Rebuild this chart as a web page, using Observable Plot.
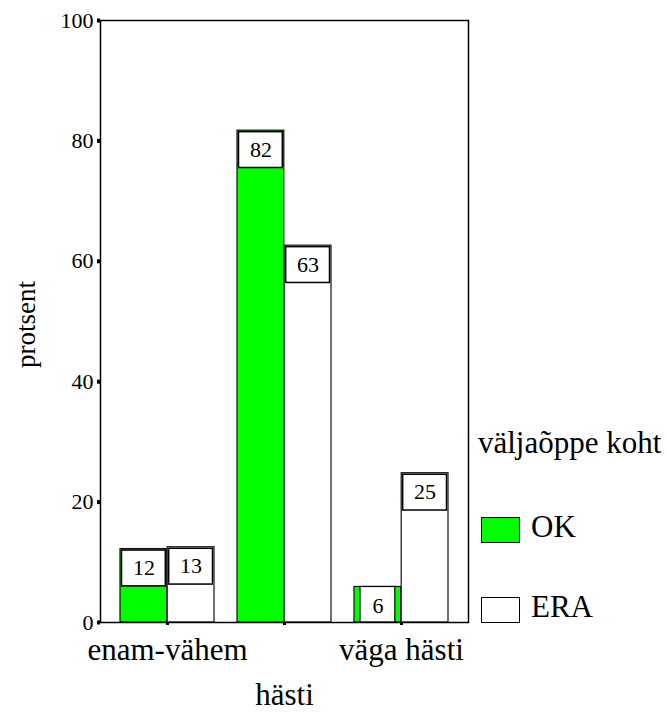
<!DOCTYPE html>
<html>
<head>
<meta charset="utf-8">
<script src="https://cdn.jsdelivr.net/npm/d3@7"></script>
<script src="https://cdn.jsdelivr.net/npm/@observablehq/plot@0.6"></script>
<style>
  html, body { margin: 0; padding: 0; background: white; }
  #wrap { position: relative; width: 667px; height: 715px; font-family: "Liberation Serif", "DejaVu Serif", serif; color: black; }
  #wrap svg, #wrap svg text { font-family: "Liberation Serif", "DejaVu Serif", serif !important; }
  .lg { position: absolute; font-family: "Liberation Serif", "DejaVu Serif", serif; font-size: 31px; line-height: 31px; white-space: nowrap; }
  .sw { position: absolute; width: 39px; height: 26px; border: 1px solid black; box-sizing: border-box; }
</style>
</head>
<body>
<div id="wrap"></div>
<script>
// ---- data ----
const categories = ["enam-vähem", "hästi", "väga hästi"];
const tickLabels = ["enam-vähem", "", "väga hästi"];
const seriesNames = ["OK", "ERA"];
const okValues = [12.2, 81.7, 5.9];
const eraValues = [12.5, 62.6, 24.8];
const okLabels = ["12", "82", "6"];
const eraLabels = ["13", "63", "25"];
const yTicks = [0, 20, 40, 60, 80, 100];
const legendTitle = "väljaõppe koht";
const yTitle = "protsent";
const xTitle = "hästi";

const okRows = categories.map((c, i) => ({cat: c, value: okValues[i], label: okLabels[i]}));
const eraRows = categories.map((c, i) => ({cat: c, value: eraValues[i], label: eraLabels[i]}));

// ---- layout ----
const FONT = '"Liberation Serif", "DejaVu Serif", serif';
const W = 667, H = 715;
const mL = 100, mR = 199, mT = 20, mB = 93;
const padIn = 0.2, padOut = 0.16;
const step = (W - mL - mR) / (categories.length - padIn + 2 * padOut);
const half = step * (1 - padIn) / 2;
const boxSpan = 6.2;

function seriesMarks(rows, side, fill) {
  const iL = side === "left" ? 0 : half;
  const iR = side === "left" ? half : 0;
  const big = rows.filter(d => d.value > boxSpan + 0.5);
  const small = rows.filter(d => d.value <= boxSpan + 0.5);
  return [
    Plot.barY(rows, {x: "cat", y: "value", fill, stroke: "#111", strokeWidth: 1.2, insetLeft: iL, insetRight: iR}),
    Plot.barY(big, {x: "cat", y1: d => d.value - boxSpan, y2: "value", fill: "white", stroke: "black", strokeWidth: 1.5,
      insetLeft: iL + 1.5, insetRight: iR + 1.5, insetTop: 1.5}),
    Plot.barY(small, {x: "cat", y1: 0, y2: "value", fill: "white", stroke: "black", strokeWidth: 1.2,
      insetLeft: iL + 6, insetRight: iR + 6}),
    Plot.text(rows, {x: "cat", y: "value", text: "label", dx: side === "left" ? -half / 2 : half / 2, dy: 19,
      fontSize: 22, fontFamily: FONT, fill: "black"})
  ];
}

const chart = Plot.plot({
  width: W, height: H,
  marginLeft: mL, marginRight: mR, marginTop: mT, marginBottom: mB,
  style: {fontFamily: FONT, background: "white", color: "black"},
  x: {domain: categories, paddingInner: padIn, paddingOuter: padOut, label: null},
  y: {domain: [0, 100], label: null},
  marks: [
    ...seriesMarks(okRows, "left", "#00ff00"),
    ...seriesMarks(eraRows, "right", "white"),
    Plot.frame({stroke: "black", strokeWidth: 1.5}),
    Plot.axisY({ticks: yTicks, tickSize: 3, strokeWidth: 4, tickPadding: 4, fontSize: 22, fontFamily: FONT, label: null}),
    Plot.axisX({tickSize: 3, strokeWidth: 3, tickPadding: 12, fontSize: 31, fontFamily: FONT, label: null,
      tickFormat: d => tickLabels[categories.indexOf(d)]}),
    Plot.text([yTitle], {text: d => d, frameAnchor: "left", textAnchor: "middle", lineAnchor: "middle",
      rotate: -90, dx: -74, dy: 3, fontSize: 27, fontFamily: FONT}),
    Plot.text([xTitle], {text: d => d, frameAnchor: "bottom", lineAnchor: "middle", dy: 73, fontSize: 31, fontFamily: FONT})
  ]
});

const wrap = document.getElementById("wrap");
wrap.appendChild(chart);

// ---- legend (right side) ----
function addDiv(cls, css, txt) {
  const el = document.createElement("div");
  el.className = cls;
  Object.assign(el.style, css);
  if (txt != null) el.textContent = txt;
  wrap.appendChild(el);
}
addDiv("lg", {left: "478px", top: "427px"}, legendTitle);
const legendFills = ["#00ff00", "white"];
const swTops = [517, 597];
seriesNames.forEach((s, i) => {
  addDiv("sw", {left: "481px", top: swTops[i] + "px", background: legendFills[i]});
  addDiv("lg", {left: "531px", top: (swTops[i] - 6) + "px"}, s);
});
</script>
</body>
</html>
